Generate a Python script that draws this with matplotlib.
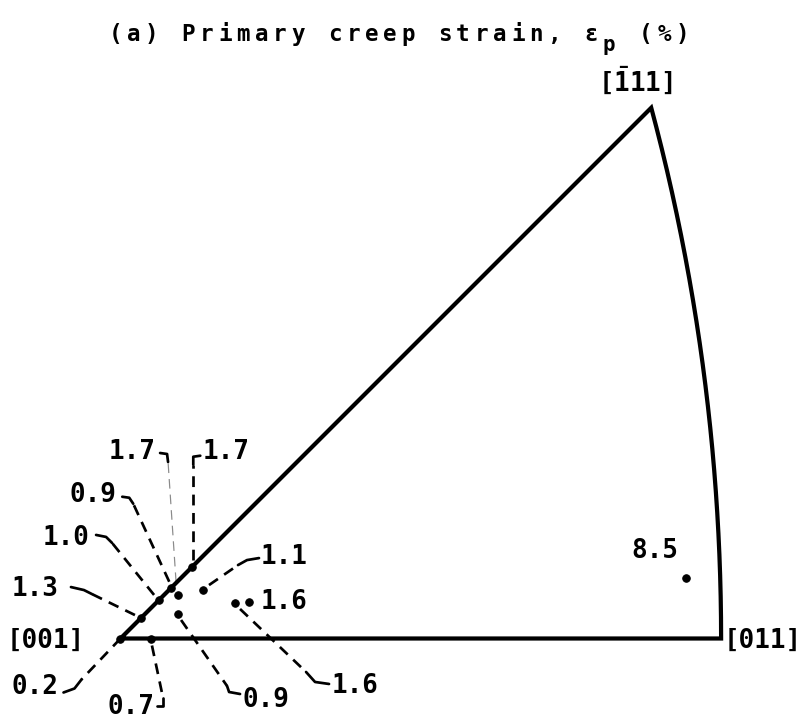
import numpy as np
import matplotlib
matplotlib.use("Agg")
import matplotlib.pyplot as plt

plt.rcParams["mathtext.fontset"] = "custom"
plt.rcParams["mathtext.rm"] = "DejaVu Sans Mono:bold"
plt.rcParams["mathtext.bf"] = "DejaVu Sans Mono:bold"

# Corners of the standard stereographic triangle
pole_labels = ["[001]", "[011]", r"$\mathrm{[\bar{1}11]}$"]
pole_dirs = [(0, 0, 1), (0, 1, 1), (-1, 1, 1)]

# Specimen axes in projected coordinates and their primary creep strain (%)
orient_x = [0.000, 0.021, 0.0141, 0.0266, 0.0350, 0.0397, 0.0495, 0.0569, 0.0790, 0.0886, 0.0397, 0.390]
orient_y = [0.000, 0.000, 0.0141, 0.0266, 0.0350, 0.0300, 0.0495, 0.0334, 0.0245, 0.0252, 0.0169, 0.0417]
strain = [0.2, 0.7, 1.3, 1.0, 0.9, 1.7, 1.7, 1.1, 1.6, 1.6, 0.9, 8.5]

title_main = "(a) Primary creep strain, \u03b5  (%)"
title_sub = "p"
title_sub_slot = 27

# ---- layout (pixel offsets, y downward) ----
W, H, DPI = 805, 718, 72
S = 1450.0                 # pixels per projected unit
O = (120.5, 638.5)         # pixel position of [001]

text_off = [(-86, 49), (-20, 68), (-106, -29), (-93, -62), (-78, -93), (-46, -143),
            (34, -115), (81, -33), (120, 83), (35, 0), (88, 86), (-31, -27)]
dash_seg = [((0, 0), (-39, 41)), ((1, 7), (12, 59)), ((-6, -3), (-49, -24)),
            ((-5, -5), (-47, -57)), ((-2, -6), (-38, -84)), ((-2, -13), (-10, -133)),
            ((1, -7), (1, -102)), ((6, -5), (35, -25)), ((5, 6), (71, 69)),
            None, ((3, 6), (49, 72)), None]
hooks = [[(-39, 41), (-46, 50), (-57, 54)], [(12, 59), (12, 67), (6, 67)],
         [(-49, -24), (-57, -28), (-70, -31)], [(-47, -57), (-53, -63), (-63, -65)],
         [(-38, -84), (-42, -90), (-49, -91)], [(-10, -133), (-11, -141), (-18, -142)],
         [(1, -102), (1, -110), (8, -111)], [(35, -25), (44, -30), (56, -32)],
         [(71, 69), (80, 79), (94, 81)], None, [(49, 72), (51, 78), (62, 80)], None]
faint = [False, False, False, False, False, True, False, False, False, False, False, False]
pole_text_off = [(-75, 2), (42, 2), (-16, -27)]

TITLE_X0, TITLE_PITCH, TITLE_BASE, SUB_BASE = 106, 18.3, 41, 51

FONT = dict(family="DejaVu Sans Mono", weight="bold", color="black")


def project(v):
    v = np.asarray(v, float)
    v = v / np.linalg.norm(v)
    return v[1] / (1 + v[2]), -v[0] / (1 + v[2])


def shift(x, y, d):
    return x + d[0] / S, y - d[1] / S


fig = plt.figure(figsize=(W / DPI, H / DPI), dpi=DPI)
ax = fig.add_axes([0, 0, 1, 1])
ax.set_xlim(-O[0] / S, (W - O[0]) / S)
ax.set_ylim((O[1] - H) / S, O[1] / S)
ax.set_aspect("equal")
ax.axis("off")

# triangle: two straight edges through [001] and the great-circle arc [011]-[1-11]
corners = [project(v) for v in pole_dirs]
a = np.array(pole_dirs[1], float); a /= np.linalg.norm(a)
b = np.array(pole_dirs[2], float); b /= np.linalg.norm(b)
om = np.arccos(np.dot(a, b))
t = np.linspace(0, 1, 200)
arc = [project((np.sin((1 - s) * om) * a + np.sin(s * om) * b) / np.sin(om)) for s in t]
bx = [corners[0][0]] + [p[0] for p in arc] + [corners[0][0]]
by = [corners[0][1]] + [p[1] for p in arc] + [corners[0][1]]
ax.plot(bx, by, color="black", lw=4.2, solid_joinstyle="miter", solid_capstyle="butt", zorder=3)

for lab, c, d in zip(pole_labels, corners, pole_text_off):
    ax.annotate(lab, xy=c, xytext=(d[0], -d[1]), textcoords="offset points",
                ha="center", va="center", fontsize=26, **FONT)

# data points
ax.plot(orient_x, orient_y, "o", color="black", ms=7.5, zorder=4)

for i, (x, y, val) in enumerate(zip(orient_x, orient_y, strain)):
    ax.annotate(f"{val:.1f}", xy=(x, y), xytext=(text_off[i][0], -text_off[i][1]),
                textcoords="offset points", ha="center", va="center", fontsize=26, **FONT)
    if dash_seg[i] is not None:
        p0 = shift(x, y, dash_seg[i][0])
        p1 = shift(x, y, dash_seg[i][1])
        if faint[i]:
            ax.plot([p0[0], p1[0]], [p0[1], p1[1]], color="#8a8a8a", lw=1.2,
                    dashes=(8, 5), zorder=2)
        else:
            ax.plot([p0[0], p1[0]], [p0[1], p1[1]], color="black", lw=2.7,
                    dashes=(4, 2.8), dash_capstyle="butt", zorder=2)
    if hooks[i] is not None:
        hp = [shift(x, y, d) for d in hooks[i]]
        ax.plot([p[0] for p in hp], [p[1] for p in hp], color="black", lw=2.7,
                solid_capstyle="round", solid_joinstyle="round", zorder=2)

# title set on a wide typewriter pitch, with a lowered subscript
for k, ch in enumerate(title_main):
    if ch != " ":
        fig.text((TITLE_X0 + (k + 0.5) * TITLE_PITCH) / W, 1 - TITLE_BASE / H, ch,
                 ha="center", va="baseline", fontsize=22.5, **FONT)
fig.text((TITLE_X0 + (title_sub_slot + 0.5) * TITLE_PITCH) / W, 1 - SUB_BASE / H, title_sub,
         ha="center", va="baseline", fontsize=21, **FONT)

fig.savefig("out.png", dpi=DPI)
